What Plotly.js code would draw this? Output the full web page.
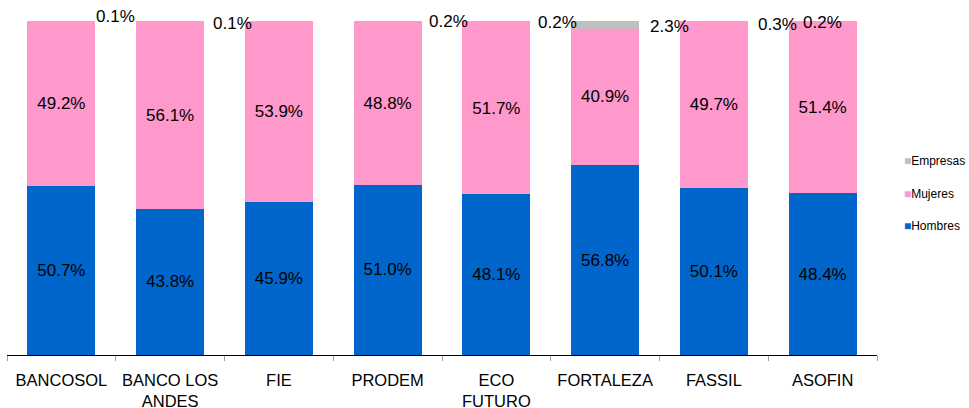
<!DOCTYPE html>
<html>
<head>
<meta charset="utf-8">
<script src="https://cdn.plot.ly/plotly-3.0.1.min.js"></script>
<style>html,body{margin:0;padding:0;background:#fff;}#chart{width:969px;height:408px;}</style>
</head>
<body>
<div id="chart"></div>
<script>
const categories = ['BANCOSOL', 'BANCO LOS<br>ANDES', 'FIE', 'PRODEM', 'ECO<br>FUTURO', 'FORTALEZA', 'FASSIL', 'ASOFIN'];
const hombres = [50.7, 43.8, 45.9, 51.0, 48.1, 56.8, 50.1, 48.4];
const mujeres = [49.2, 56.1, 53.9, 48.8, 51.7, 40.9, 49.7, 51.4];
const empresas = [0.1, 0.1, 0.2, 0.2, 0.2, 2.3, 0.3, 0.2];
const empresasLabels = ['0.1%', '0.1%', '', '0.2%', '0.2%', '2.3%', '0.3%', '0.2%'];
const seriesNames = ['Hombres', 'Mujeres', 'Empresas'];
const seriesColors = ['#0066CC', '#FF99CC', '#C0C0C0'];

// label placement styles for the small "Empresas" values
const labelXShift = [54, 62, 0, 61, 61, 64, 64, 0];
const labelYShift = [5, -2, 0, 0, -1, -5.5, -3, -1];

const FONT = 'Liberation Sans, Arial, sans-serif';
const pct = v => v.toFixed(1) + '%';

const values = [hombres, mujeres, empresas];
const traces = values.map((vals, i) => ({
  type: 'bar',
  x: categories,
  y: vals,
  name: seriesNames[i],
  marker: {color: seriesColors[i], line: {width: 0}},
  text: i < 2 ? vals.map(pct) : undefined,
  textposition: i < 2 ? 'inside' : 'none',
  insidetextanchor: 'middle',
  textangle: 0,
  constraintext: 'none',
  insidetextfont: {family: FONT, size: 17, color: '#000'},
  showlegend: false,
  hoverinfo: 'skip'
}));

// legend entries (Empresas on top)
[2, 1, 0].forEach((i, k) => {
  traces.push({
    type: 'scatter', mode: 'markers', x: [null], y: [null],
    name: '<span style="color:' + seriesColors[i] + '">■</span>' + seriesNames[i],
    marker: {color: 'rgba(0,0,0,0)', size: 1, opacity: 0},
    legendgroup: 'g' + k, showlegend: true, hoverinfo: 'skip'
  });
});

const annotations = categories.map((c, i) => ({
  x: c, y: Math.min(hombres[i] + mujeres[i] + empresas[i], 100), xref: 'x', yref: 'y',
  text: empresasLabels[i], showarrow: false,
  xshift: labelXShift[i], yshift: labelYShift[i], yanchor: 'middle',
  font: {family: FONT, size: 17, color: '#000'}
}));

const layout = {
  width: 969, height: 408,
  margin: {l: 7, r: 92, t: 21, b: 53, pad: 0, autoexpand: false},
  barmode: 'stack',
  bargap: 0.375,
  paper_bgcolor: '#fff', plot_bgcolor: '#fff',
  font: {family: FONT, size: 17, color: '#000'},
  xaxis: {
    type: 'category', showline: true, linecolor: '#000', linewidth: 1,
    ticks: 'outside', tickson: 'boundaries', ticklen: 5, tickcolor: '#A0A0A0', tickwidth: 1,
    showgrid: false, zeroline: false, ticklabelstandoff: 10, tickangle: 0,
    tickfont: {family: FONT, size: 16.5, color: '#000'}, fixedrange: true, automargin: false
  },
  yaxis: {range: [0, 100], visible: false, showgrid: false, zeroline: false, fixedrange: true},
  showlegend: true,
  legend: {
    x: 0.985, xanchor: 'left', y: 0.626, yanchor: 'top',
    traceorder: 'grouped', tracegroupgap: 13.5,
    font: {family: FONT, size: 12, color: '#000'},
    bgcolor: 'rgba(0,0,0,0)', borderwidth: 0
  },
  annotations: annotations
};

Plotly.newPlot('chart', traces, layout, {staticPlot: true, displayModeBar: false});
</script>
</body>
</html>
